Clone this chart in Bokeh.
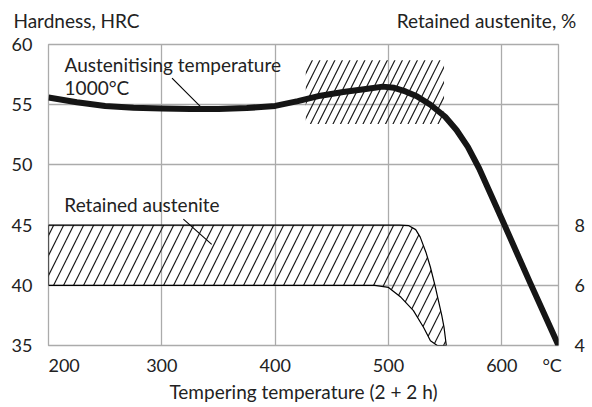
from bokeh.plotting import figure
from bokeh.models import Range1d, LinearAxis, FixedTicker
from bokeh.core.properties import value
from bokeh.embed import file_html
from bokeh.resources import INLINE

# Hardness curve (tempering temperature, degC -> HRC)
temp = [200, 225, 250, 275, 300, 325, 350, 375, 400, 420, 440, 460, 480, 495,
        505, 515, 525, 537, 550, 560, 570, 580, 590, 600, 625, 650]
hrc = [55.6, 55.2, 54.9, 54.75, 54.68, 54.65, 54.65, 54.72, 54.9, 55.3, 55.75,
       56.05, 56.3, 56.5, 56.4, 56.1, 55.7, 55.0, 54.0, 52.9, 51.5, 49.7, 47.6,
       45.5, 40.2, 35.0]

# Retained austenite band (%), upper and lower boundaries
ra_top_t = [200, 510, 518, 524, 528, 533, 537, 541, 544, 547, 549, 551]
ra_top_v = [8.0, 8.0, 7.98, 7.85, 7.6, 7.1, 6.6, 6.0, 5.5, 5.0, 4.6, 4.0]
ra_bot_t = [200, 488, 500, 511, 522, 531, 537, 543]
ra_bot_v = [6.0, 6.0, 5.93, 5.6, 5.16, 4.6, 4.16, 4.0]

# Hatched scatter zone around the hardness peak
zone_t = [427, 549, 549, 427]
zone_h = [53.4, 53.4, 58.7, 58.7]

# Leader lines for the labels
lead1_t = [309, 335]
lead1_h = [57.2, 54.75]
lead2_t = [319, 344]
lead2_h = [45.5, 43.4]

x_ticks = [200, 300, 400, 500, 600, 650]
x_tick_labels = {200: "\u2007\u2007\u2007200", 650: "°C\u2007\u2009"}
y_ticks = [35, 40, 45, 50, 55, 60]
ra_ticks = [4, 6, 8]

# axis titles shown above the frame (positions along the frame, px)
top_title_pos = [28, 438]
top_titles = {28: "Hardness, HRC", 438: "Retained austenite, %"}

FONT = "Lato"
FS_TICK = "18px"
FS = "19px"
TXT = "#222222"
GRID = "#ababab"

p = figure(frame_width=510, frame_height=301,
           x_range=Range1d(200, 650), y_range=Range1d(35, 60),
           output_backend="svg", toolbar_location=None,
           min_border_left=48, min_border_top=44, min_border_right=30,
           min_border_bottom=0)
p.extra_y_ranges = {"ra": Range1d(4, 14)}
p.extra_x_ranges = {"hdr": Range1d(0, 510)}

p.outline_line_color = GRID
p.outline_line_width = 1.3

p.xgrid.ticker = FixedTicker(ticks=[300, 400, 500, 600])
p.ygrid.ticker = FixedTicker(ticks=[40, 45, 50, 55])
for g in (p.xgrid, p.ygrid):
    g.grid_line_color = GRID
    g.grid_line_width = 1.3

xa = p.xaxis[0]
xa.ticker = FixedTicker(ticks=x_ticks)
xa.major_label_overrides = x_tick_labels
xa.axis_label = "Tempering temperature (2 + 2 h)"
xa.major_label_standoff = 2
xa.axis_label_standoff = 1

ya = p.yaxis[0]
ya.ticker = FixedTicker(ticks=y_ticks)
ya.major_label_standoff = 10

ra = LinearAxis(y_range_name="ra", ticker=FixedTicker(ticks=ra_ticks))
ra.major_label_standoff = 10
p.add_layout(ra, "right")

top = LinearAxis(x_range_name="hdr", ticker=FixedTicker(ticks=top_title_pos))
top.major_label_overrides = top_titles
top.major_label_standoff = 7
p.add_layout(top, "above")

for ax in (xa, ya, ra, top):
    ax.axis_line_color = None
    ax.major_tick_line_color = None
    ax.minor_tick_line_color = None
    ax.major_label_text_font = FONT
    ax.major_label_text_font_size = FS_TICK
    ax.major_label_text_color = TXT
    ax.axis_label_text_font = FONT
    ax.axis_label_text_font_size = FS
    ax.axis_label_text_font_style = "normal"
    ax.axis_label_text_color = TXT
top.major_label_text_font_size = FS

# hatched zone (no border)
p.patch(zone_t, zone_h, fill_color=None, line_color=None,
        hatch_pattern="/", hatch_scale=15, hatch_weight=1.2,
        hatch_color="#1a1a1a")

# retained austenite band
band_x = ra_top_t + ra_bot_t[::-1]
band_y = ra_top_v + ra_bot_v[::-1]
p.patch(band_x, band_y, y_range_name="ra", fill_color=None,
        line_color="black", line_width=1.2,
        hatch_pattern="/", hatch_scale=20, hatch_weight=1.2,
        hatch_color="#1a1a1a")

# leader lines
p.line(lead1_t, lead1_h, line_color="black", line_width=1.1)
p.line(lead2_t, lead2_h, line_color="black", line_width=1.1)

# hardness curve
p.line(temp, hrc, line_color="#151515", line_width=6, line_join="round")

# in-plot labels
lab_x = [214.2, 214.2, 214.0]
lab_y = [58.35, 56.44, 46.67]
lab_t = ["Austenitising temperature", "1000°C", "Retained austenite"]
p.text(x=lab_x, y=lab_y, text=lab_t, text_font=value(FONT), text_font_size=FS,
       text_color=TXT, text_baseline="alphabetic", text_align="left")

open("out.html", "w").write(file_html(p, INLINE))
